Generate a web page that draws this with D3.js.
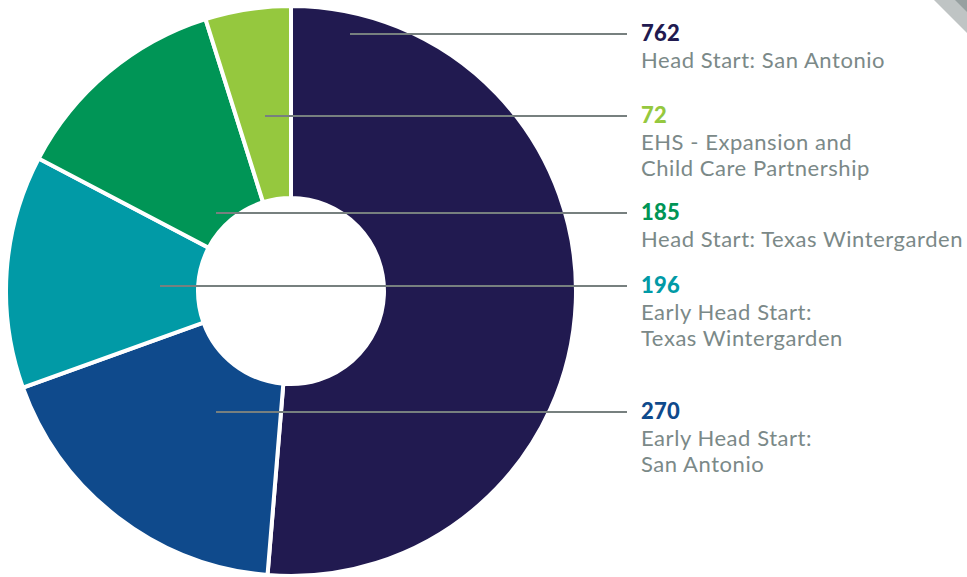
<!DOCTYPE html>
<html>
<head>
<meta charset="utf-8">
<script src="https://cdn.jsdelivr.net/npm/d3@7"></script>
<style>
  body { margin: 0; background: #fff; }
  svg { display: block; }
</style>
</head>
<body>
<div id="wrapper"></div>
<script>
// data
const values = [762, 270, 196, 185, 72]
const names = [
    ["Head Start: San Antonio"],
    ["Early Head Start:", "San Antonio"],
    ["Early Head Start:", "Texas Wintergarden"],
    ["Head Start: Texas Wintergarden"],
    ["EHS - Expansion and", "Child Care Partnership"],
]
const colors = ["#211a50", "#0f4a8c", "#019aa6", "#009556", "#95c83e"]
// leader line y position and start x for each slice (same order)
const labelY = [34, 412, 286, 213, 116]
const lineStartX = [350, 216, 160, 216, 265]

const width = 967
const height = 577
const cx = 291, cy = 291
const outerR = 285, innerR = 93

const svg = d3.select("#wrapper")
    .append("svg")
    .attr("width", width)
    .attr("height", height)

// corner decoration
svg.append("polygon")
    .attr("points", "934,0 967,0 967,33")
    .attr("fill", "#bfc4c4")
svg.append("polygon")
    .attr("points", "955,0 967,0 967,12")
    .attr("fill", "#97a0a0")

const pie = d3.pie().sort(null).value(d => d)
const arcs = pie(values)
const arc = d3.arc().innerRadius(innerR).outerRadius(outerR)

const bounds = svg.append("g")
    .attr("transform", `translate(${cx},${cy})`)

bounds.selectAll("path")
    .data(arcs)
    .enter()
    .append("path")
    .attr("d", arc)
    .attr("fill", (d, i) => colors[i])
    .attr("stroke", "#fff")
    .attr("stroke-width", 4)
    .attr("stroke-linejoin", "miter")

// hole
bounds.append("circle").attr("r", innerR).attr("fill", "#fff")

// leader lines + labels
const lineEnd = 627
const textX = 641
values.forEach((v, i) => {
    svg.append("line")
        .attr("x1", lineStartX[i]).attr("x2", lineEnd)
        .attr("y1", labelY[i]).attr("y2", labelY[i])
        .attr("stroke", "#77807f")
        .attr("stroke-width", 2.2)

    const t = svg.append("text")
        .attr("x", textX)
        .attr("y", labelY[i] + 7)
        .style("font-family", "Lato, 'Open Sans', sans-serif")
    t.append("tspan")
        .attr("x", textX)
        .style("font-weight", 900)
        .style("font-size", "22px")
        .style("letter-spacing", "0.3px")
        .attr("fill", colors[i])
        .text(v)
    names[i].forEach((n, j) => {
        t.append("tspan")
            .attr("x", textX)
            .attr("dy", 26.5)
            .style("font-size", "22px")
            .style("letter-spacing", "0.55px")
            .attr("fill", "#7b8988")
            .text(n)
    })
})
</script>
</body>
</html>
